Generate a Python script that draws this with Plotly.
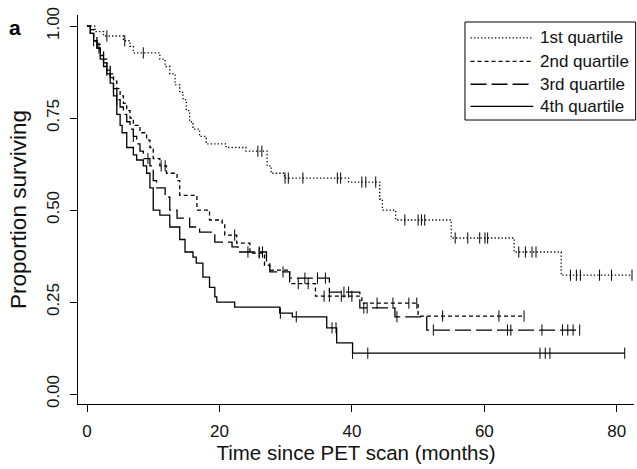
import plotly.graph_objects as go
import bisect

# ---------------- data ----------------
q1_time = [0, 1.2, 2.5, 5.5, 6.5, 7.0, 11.0, 11.8, 12.5, 13.3, 14.0, 14.5, 15.0, 15.5, 16.0,
           17.0, 18.0, 21.0, 24.0, 27.2, 27.8, 29.8, 39.5, 44.2, 44.6, 46.6, 55.0, 64.5, 71.6, 82.3]
q1_surv = [1.0, .985, .973, .96, .945, .927, .91, .89, .87, .84, .82, .80, .77, .74, .72,
           .70, .68, .67, .66, .62, .60, .587, .576, .53, .50, .473, .424, .386, .323, .323]
q1_cens = [3.0, 5.7, 8.5, 25.8, 26.4, 29.9, 30.4, 32.6, 37.8, 38.3, 41.5, 42.1, 43.6, 48.0, 50.0,
           50.5, 51.0, 55.6, 57.5, 59.3, 60.1, 60.5, 65.2, 66.2, 67.2, 67.8, 73.0, 73.9, 74.5,
           77.4, 79.2, 82.3]

q2_time = [0, .5, 1, 1.5, 2, 2.5, 3, 3.5, 4, 4.5, 5, 5.5, 6, 6.5, 7, 8, 9, 9.5, 10, 11, 12,
           13.6, 14, 16.6, 18.5, 20.4, 20.8, 22.6, 24.6, 26.8, 27.6, 30.6, 34.5, 41.5, 50.0, 66.0]
q2_surv = [1, .99, .97, .95, .93, .91, .89, .87, .85, .83, .81, .79, .77, .75, .73, .71, .69,
           .67, .64, .62, .60, .58, .54, .50, .473, .465, .432, .41, .383, .35, .337, .30, .266,
           .247, .212, .212]
q2_cens = [11.2, 11.8, 22.3, 26.0, 31.9, 33.4, 35.8, 36.6, 38.4, 40.0, 43.8, 46.2, 48.6,
           49.8, 53.7, 62.2, 66.0]

q3_time = [0, .5, 1, 1.5, 2, 2.5, 3, 3.5, 4, 4.5, 5, 5.5, 6, 6.5, 7, 7.5, 8, 8.5, 9.5, 10,
           10.5, 11.8, 12.5, 13.6, 15.5, 17.0, 19.3, 21.9, 22.8, 27.1, 27.6, 30.6, 36.6, 41.2,
           46.5, 51.3, 74.4]
q3_surv = [1, .98, .96, .94, .92, .90, .88, .86, .83, .80, .78, .76, .74, .72, .70, .68, .66,
           .64, .62, .58, .56, .535, .50, .478, .454, .44, .413, .40, .386, .356, .332, .315,
           .277, .234, .21, .174, .174]
q3_cens = [1.8, 3.0, 4.5, 7.0, 9.2, 24.3, 26.0, 26.5, 29.6, 32.9, 34.8, 36.0, 38.8, 39.5,
           41.8, 42.3, 46.8, 52.3, 63.5, 64.0, 68.7, 71.8, 72.6, 73.4, 74.4]

q4_time = [0, .5, 1, 1.5, 2, 2.5, 3, 3.5, 4, 4.5, 5, 5.3, 6, 7, 7.5, 8.5, 9, 9.5, 10, 11,
           12.5, 14, 14.8, 16, 16.5, 17.5, 18.5, 19.3, 19.6, 22.3, 29.1, 31.0, 36.2, 37.7, 40.1,
           81.2]
q4_surv = [1, .98, .96, .94, .91, .89, .87, .845, .81, .76, .73, .71, .67, .65, .636, .62,
           .60, .56, .50, .486, .454, .42, .386, .372, .356, .318, .29, .264, .25, .236, .22,
           .21, .18, .139, .111, .111]
q4_cens = [1.0, 29.2, 31.6, 37.0, 37.6, 40.1, 42.4, 68.4, 69.2, 69.9, 81.2]

group_names = ["1st quartile", "2nd quartile", "3rd quartile", "4th quartile"]
x_ticks = [0, 20, 40, 60, 80]
y_ticks = [0.0, 0.25, 0.5, 0.75, 1.0]
y_ticklabels = ["0.00", "0.25", "0.50", "0.75", "1.00"]

# ---------------- styling ----------------
dashes = ["1.3px,2.2px", "4px,3px", "16px,5px", "solid"]
FONT = "Arial, Liberation Sans, sans-serif"
LW = 1.3
INK = "#111"

groups = [(q1_time, q1_surv, q1_cens), (q2_time, q2_surv, q2_cens),
          (q3_time, q3_surv, q3_cens), (q4_time, q4_surv, q4_cens)]


def step_at(times, surv, t):
    i = bisect.bisect_right(times, t) - 1
    return surv[max(i, 0)]


fig = go.Figure()
for (t, s, c), name, d in zip(groups, group_names, dashes):
    fig.add_trace(go.Scatter(x=t, y=s, mode="lines", line=dict(shape="hv", color="black",
                             width=LW, dash=d), name=name, showlegend=False))
    fig.add_trace(go.Scatter(x=c, y=[step_at(t, s, ci) for ci in c], mode="markers",
                             marker=dict(symbol="line-ns", size=8,
                                         line=dict(color="black", width=1)),
                             showlegend=False, hoverinfo="skip"))

# manual legend (R-style box)
shapes = [dict(type="rect", xref="paper", yref="paper", x0=0.696, x1=1.003, y0=0.730, y1=0.982,
               line=dict(color="black", width=1), fillcolor="white", layer="above")]
rows = [0.941, 0.881, 0.822, 0.765]
annotations = []
for yy, name, d in zip(rows, group_names, dashes):
    shapes.append(dict(type="line", xref="paper", yref="paper", x0=0.706, x1=0.819, y0=yy, y1=yy,
                       line=dict(color="black", width=LW, dash=d), layer="above"))
    annotations.append(dict(xref="paper", yref="paper", x=0.828, y=yy, text=name,
                            showarrow=False, xanchor="left", yanchor="middle",
                            font=dict(size=17, color=INK, family=FONT)))
annotations.append(dict(xref="paper", yref="paper", x=-0.128, y=0.967, text="<b>a</b>",
                        showarrow=False, xanchor="left", yanchor="middle",
                        font=dict(size=21, color="black", family=FONT)))

fig.update_layout(
    width=637, height=469,
    margin=dict(l=78, r=3, t=15, b=65),
    paper_bgcolor="white", plot_bgcolor="white",
    font=dict(family=FONT, color=INK),
    shapes=shapes, annotations=annotations,
    xaxis=dict(range=[-1.36, 82.6], tickvals=x_ticks, ticks="outside", ticklen=7,
               tickcolor="black", showline=True, linecolor="black", linewidth=1.3,
               showgrid=False, zeroline=False, tickfont=dict(size=17, family=FONT),
               ticklabelstandoff=4,
               title=dict(text="Time since PET scan (months)", font=dict(size=20.5, family=FONT),
                          standoff=6)),
    yaxis=dict(range=[-0.027, 1.030], tickvals=y_ticks, ticktext=y_ticklabels, ticks="outside",
               ticklen=7, tickcolor="black", showline=True, linecolor="black", linewidth=1.3,
               showgrid=False, zeroline=False, tickangle=-90, tickfont=dict(size=17, family=FONT),
               ticklabelstandoff=4,
               title=dict(text="Proportion surviving", font=dict(size=22.5, family=FONT),
                          standoff=11)),
)

fig.write_html("out.html", config={"displayModeBar": False},
               post_script="document.body.style.margin='0';")
